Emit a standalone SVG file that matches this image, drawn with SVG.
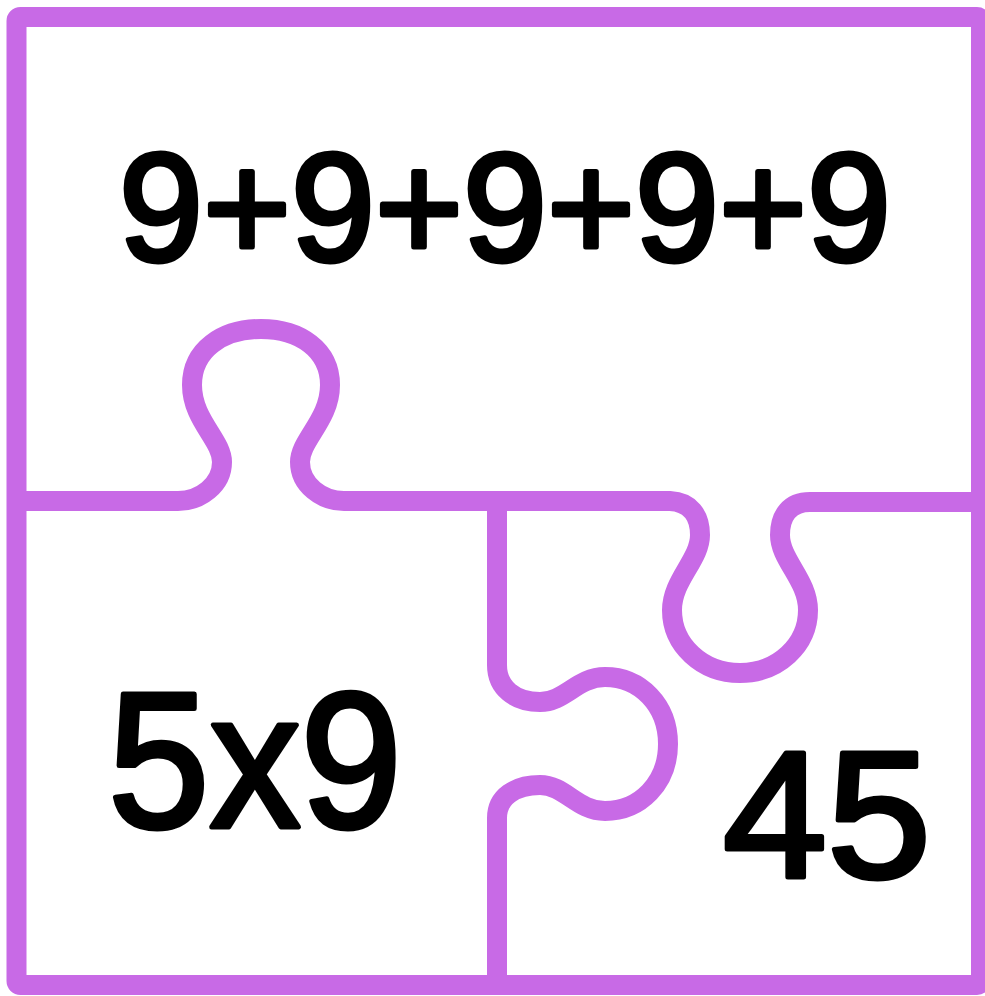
<svg xmlns="http://www.w3.org/2000/svg" width="985" height="996" viewBox="0 0 985 996">
  <style>
    .cut { fill: none; stroke: #C86AE6; stroke-width: 20; stroke-linejoin: round; }
    .lbl { font-family: "Liberation Sans", Arial, sans-serif; fill: #000; stroke: #000; stroke-width: 5; stroke-linejoin: round; }
  </style>
  <rect width="985" height="996" fill="#ffffff"/>
  <g id="connectors">
    <rect id="frame" class="cut" x="16.5" y="17" width="964.5" height="968" rx="4"/>
    <path id="cut-horizontal" class="cut" d="M 16 501 H 178 C 200 501, 222 485, 222 462 C 222 440, 192 420, 192 385 C 192 350, 222 329, 261 329 C 300 329, 330 350, 330 385 C 330 420, 300 440, 300 462 C 300 485, 322 501, 344 501 H 670 C 690 502, 700 515, 700 535 C 700 560, 672 580, 672 610 C 672 645, 702 673, 740 673 C 778 673, 808 645, 808 610 C 808 580, 780 560, 780 535 C 780 515, 790 502, 810 502 H 981"/>
    <path id="cut-vertical" class="cut" d="M 497 501 V 665 C 497 688, 515 702, 540 702 C 565 702, 577 677, 605 677 C 640 677, 668 705, 668 744 C 668 783, 640 811, 605 811 C 577 811, 565 785, 540 785 C 515 785, 497 797, 497 818 V 985"/>
  </g>
  <g id="piece-top">
    <text class="lbl" x="119" y="261" font-size="154" textLength="772" lengthAdjust="spacingAndGlyphs">9+9+9+9+9</text>
  </g>
  <g id="piece-bottom-left">
    <text class="lbl" x="108" y="827" font-size="193" textLength="294" lengthAdjust="spacingAndGlyphs">5x9</text>
  </g>
  <g id="piece-bottom-right">
    <text class="lbl" x="723" y="877" font-size="180" textLength="208" lengthAdjust="spacingAndGlyphs">45</text>
  </g>
</svg>
